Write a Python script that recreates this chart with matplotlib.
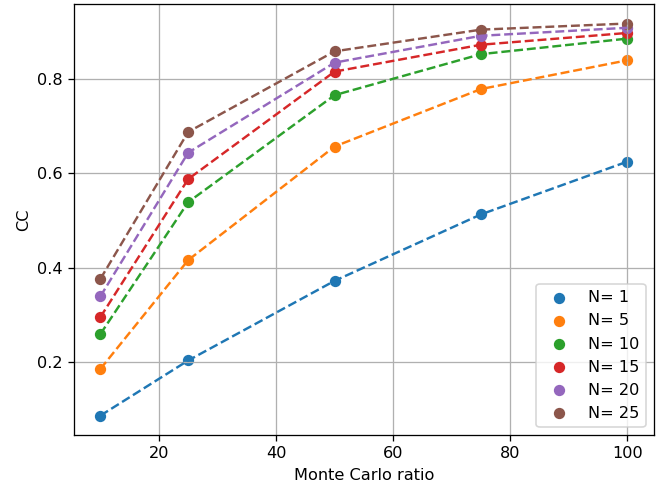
import matplotlib
matplotlib.use('Agg')
import matplotlib.pyplot as plt

ratio = [10, 25, 50, 75, 100]
n_values = [1, 5, 10, 15, 20, 25]
cc_n1 = [0.086, 0.203, 0.372, 0.513, 0.625]
cc_n5 = [0.185, 0.416, 0.657, 0.779, 0.840]
cc_n10 = [0.259, 0.539, 0.766, 0.853, 0.886]
cc_n15 = [0.295, 0.588, 0.816, 0.873, 0.898]
cc_n20 = [0.339, 0.644, 0.835, 0.892, 0.909]
cc_n25 = [0.376, 0.688, 0.859, 0.905, 0.918]
cc_all = [cc_n1, cc_n5, cc_n10, cc_n15, cc_n20, cc_n25]

dpi = 116
fig = plt.figure(figsize=(661 / dpi, 489 / dpi), dpi=dpi)
for i, (n, cc) in enumerate(zip(n_values, cc_all)):
    color = 'C{}'.format(i)
    plt.scatter(ratio, cc, color=color, label='N= {}'.format(n))
    plt.plot(ratio, cc, '--', color=color)
plt.xlabel('Monte Carlo ratio')
plt.ylabel('CC')
plt.grid()
plt.legend(loc='lower right')
plt.subplots_adjust(left=0.112, right=0.989, bottom=0.11, top=0.992)
plt.savefig('out.png', dpi=dpi)
